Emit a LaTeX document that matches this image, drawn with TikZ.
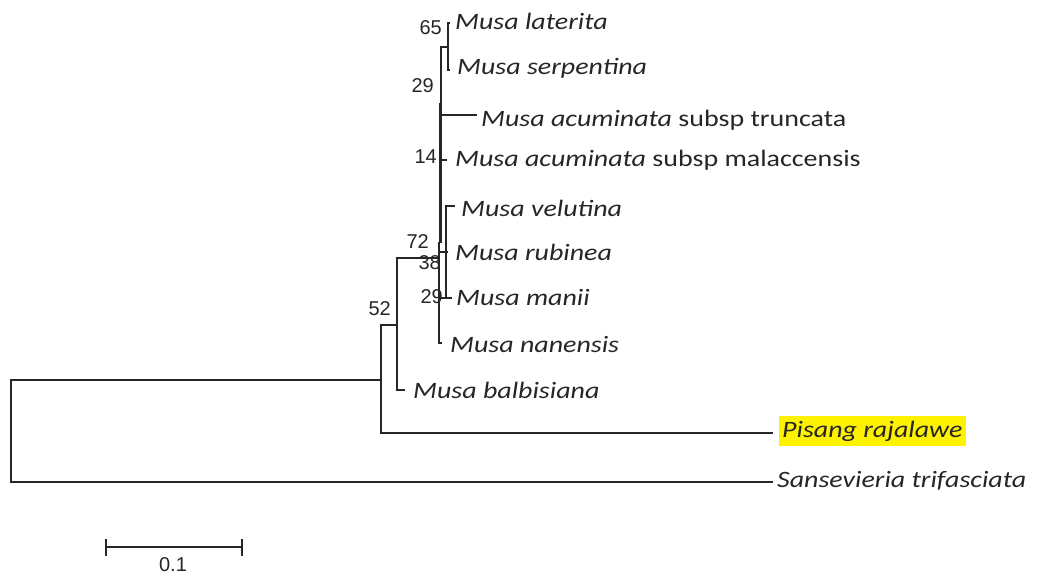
\documentclass[tikz,border=0pt]{standalone}
\usepackage{fontspec}
\newfontfamily\leaffont[FakeStretch=1.19]{Carlito}
\newfontfamily\numfont{Liberation Sans}
\begin{document}
\begin{tikzpicture}[x=1pt,y=-1pt,
  branch/.style={line width=1.3pt, draw=black!85},
  leaf/.style={anchor=base west, inner sep=0pt, font=\leaffont\fontsize{23.5}{28}\selectfont, text=black!85},
  boot/.style={anchor=base east, inner sep=0pt, font=\numfont\fontsize{20}{23}\selectfont, text=black!85}]
\useasboundingbox (0,0) rectangle (1041,575);
% internal nodes
\coordinate (root) at (11,431);
\coordinate (n52) at (381,380);
\coordinate (n72) at (397,325);
\coordinate (nin) at (439,258);
\coordinate (n65) at (448,47);
\coordinate (nvm) at (446,252);
% tips
\coordinate (tSan) at (773,482);
\coordinate (tPis) at (773,433);
\coordinate (tBal) at (405,390);
\coordinate (tNan) at (442,343);
\coordinate (tLat) at (450,23);
\coordinate (tSer) at (450,70);
\coordinate (tTru) at (477,115);
\coordinate (tMal) at (447,160);
\coordinate (tVel) at (455,206);
\coordinate (tRub) at (448,252);
\coordinate (tMan) at (452,298);
% branches
\draw[branch] (root) |- (n52);
\draw[branch] (root) |- (tSan);
\draw[branch] (n52) |- (n72);
\draw[branch] (n52) |- (tPis);
\draw[branch] (n72) |- (nin);
\draw[branch] (n72) |- (tBal);
\draw[branch] (nin) |- (tNan);
\draw[branch] (nin) -- (439,242);
\draw[line width=2.8pt, draw=black!85] (440.5,243) -- (440.5,103);
\draw[branch] (441,104) |- (n65);
\draw[branch] (n65) |- (tLat);
\draw[branch] (n65) |- (tSer);
\draw[branch] (441,115) -- (tTru);
\draw[branch] (441,160) -- (tMal);
\draw[branch] (439,252) -- (tRub);
\draw[branch] (nvm) |- (tVel);
\draw[branch] (nvm) |- (tMan);
\draw[branch] (439,298) -- (nvm |- tMan);
% leaf labels
\node[leaf] (lLat) at (455,30) {\itshape Musa laterita};
\node[leaf] (lSer) at (457,75) {\itshape Musa serpentina};
\node[leaf] (lTru) at (481,127) {\textit{Musa acuminata} subsp truncata};
\node[leaf] (lMal) at (455,166) {\textit{Musa acuminata} subsp malaccensis};
\node[leaf] (lVel) at (461,216) {\itshape Musa velutina};
\node[leaf] (lRub) at (455,260) {\itshape Musa rubinea};
\node[leaf] (lMan) at (456,305) {\itshape Musa manii};
\node[leaf] (lNan) at (450,352) {\itshape Musa nanensis};
\node[leaf] (lBal) at (413,398) {\itshape Musa balbisiana};
\node[leaf, fill=yellow, inner xsep=3pt, inner ysep=5pt] (lPis) at (779,437) {\itshape Pisang rajalawe};
\node[leaf] (lSan) at (777,487) {\itshape Sansevieria trifasciata};
% bootstrap values
\node[boot] (b65) at (442,35) {65};
\node[boot] (b29a) at (434,93) {29};
\node[boot] (b14) at (437,163) {14};
\node[boot] (b72) at (429,248) {72};
\node[boot] (b38) at (441,269) {38};
\node[boot] (b29b) at (443,303) {29};
\node[boot] (b52) at (391,315) {52};
% scale bar
\coordinate (sbL) at (106,547);
\coordinate (sbR) at (242,547);
\draw[branch] (sbL) -- (sbR);
\draw[branch] ([yshift=-9pt]sbL) -- ([yshift=8pt]sbL);
\draw[branch] ([yshift=-9pt]sbR) -- ([yshift=8pt]sbR);
\node[boot, anchor=base] (sbLab) at (173,571) {0.1};
\end{tikzpicture}
\end{document}
